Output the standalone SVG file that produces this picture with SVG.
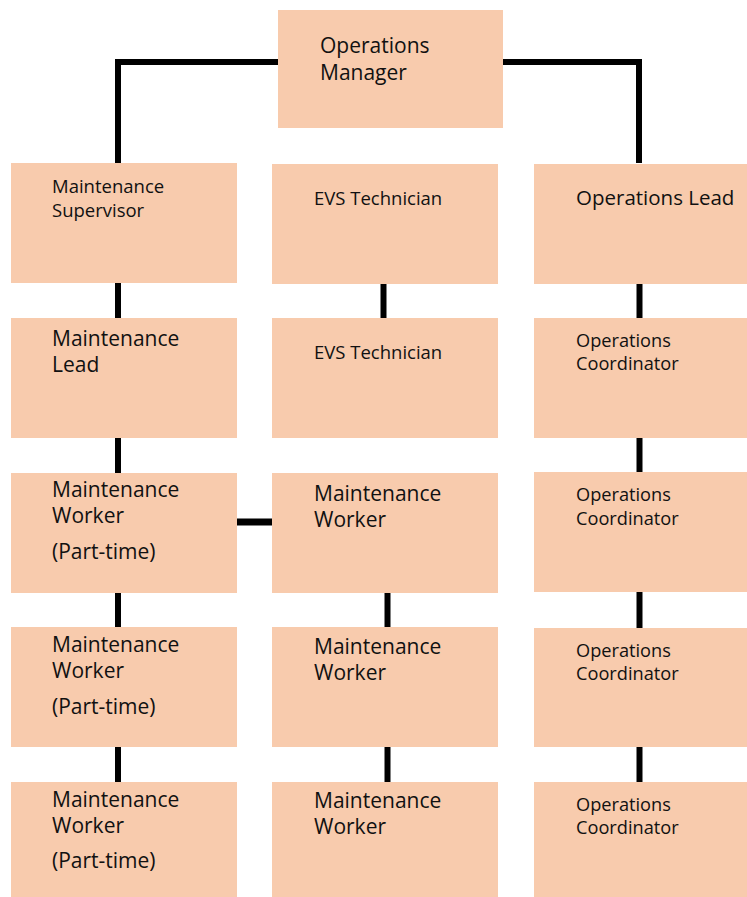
<svg xmlns="http://www.w3.org/2000/svg" width="747" height="897" viewBox="0 0 747 897">
<style>
.box{fill:#F8CBAD}
.t{font-family:"Open Sans","Noto Sans",sans-serif;fill:#111}
.l{font-size:21px}
.s{font-size:18.5px}
.c{font-size:18.2px}
.con{stroke:#000;stroke-width:6;fill:none}
</style>
<rect width="747" height="897" fill="#fff"/>
<g id="connectors">
<path class="con" d="M118,163 V62 H278"/>
<path class="con" d="M503,62 H639 V163"/>
<line class="con" x1="118" y1="283" x2="118" y2="318"/>
<line class="con" x1="118" y1="438" x2="118" y2="473"/>
<line class="con" x1="118" y1="593" x2="118" y2="627"/>
<line class="con" x1="118" y1="747" x2="118" y2="782"/>
<line class="con" x1="383.5" y1="284" x2="383.5" y2="318"/>
<line class="con" x1="387.5" y1="593" x2="387.5" y2="627"/>
<line class="con" x1="387.5" y1="747" x2="387.5" y2="782"/>
<line class="con" x1="639.5" y1="284" x2="639.5" y2="318"/>
<line class="con" x1="639.5" y1="438" x2="639.5" y2="472"/>
<line class="con" x1="639.5" y1="592" x2="639.5" y2="628"/>
<line class="con" x1="639.5" y1="747" x2="639.5" y2="782"/>
<line class="con" x1="237" y1="522" x2="272" y2="522" style="stroke-width:7"/>
</g>
<g id="operations-manager">
<rect class="box" x="278" y="10" width="225" height="118"/>
<text class="t l" x="320" y="53">Operations</text>
<text class="t l" x="320" y="80">Manager</text>
</g>
<g id="maintenance-supervisor">
<rect class="box" x="11" y="163" width="226" height="120"/>
<text class="t s" x="52" y="193">Maintenance</text>
<text class="t s" x="52" y="217">Supervisor</text>
</g>
<g id="evs-technician-1">
<rect class="box" x="272" y="164" width="226" height="120"/>
<text class="t s" x="314" y="205">EVS Technician</text>
</g>
<g id="operations-lead">
<rect class="box" x="534" y="164" width="213" height="120"/>
<text class="t l" x="576" y="205" style="font-size:20.5px">Operations Lead</text>
</g>
<g id="maintenance-lead">
<rect class="box" x="11" y="318" width="226" height="120"/>
<text class="t l" x="52" y="346">Maintenance</text>
<text class="t l" x="52" y="372">Lead</text>
</g>
<g id="evs-technician-2">
<rect class="box" x="272" y="318" width="226" height="120"/>
<text class="t s" x="314" y="359">EVS Technician</text>
</g>
<g id="operations-coordinator-1">
<rect class="box" x="534" y="318" width="213" height="120"/>
<text class="t c" x="576" y="347">Operations</text>
<text class="t c" x="576" y="370">Coordinator</text>
</g>
<g id="maintenance-worker-pt-1">
<rect class="box" x="11" y="473" width="226" height="120"/>
<text class="t l" x="52" y="497">Maintenance</text>
<text class="t l" x="52" y="523">Worker</text>
<text class="t l" x="52" y="559">(Part-time)</text>
</g>
<g id="maintenance-worker-1">
<rect class="box" x="272" y="473" width="226" height="120"/>
<text class="t l" x="314" y="501">Maintenance</text>
<text class="t l" x="314" y="527">Worker</text>
</g>
<g id="operations-coordinator-2">
<rect class="box" x="534" y="472" width="213" height="120"/>
<text class="t c" x="576" y="501">Operations</text>
<text class="t c" x="576" y="525">Coordinator</text>
</g>
<g id="maintenance-worker-pt-2">
<rect class="box" x="11" y="627" width="226" height="120"/>
<text class="t l" x="52" y="652">Maintenance</text>
<text class="t l" x="52" y="678">Worker</text>
<text class="t l" x="52" y="714">(Part-time)</text>
</g>
<g id="maintenance-worker-2">
<rect class="box" x="272" y="627" width="226" height="120"/>
<text class="t l" x="314" y="654">Maintenance</text>
<text class="t l" x="314" y="680">Worker</text>
</g>
<g id="operations-coordinator-3">
<rect class="box" x="534" y="628" width="213" height="119"/>
<text class="t c" x="576" y="657">Operations</text>
<text class="t c" x="576" y="680">Coordinator</text>
</g>
<g id="maintenance-worker-pt-3">
<rect class="box" x="11" y="782" width="226" height="115"/>
<text class="t l" x="52" y="807">Maintenance</text>
<text class="t l" x="52" y="833">Worker</text>
<text class="t l" x="52" y="868">(Part-time)</text>
</g>
<g id="maintenance-worker-3">
<rect class="box" x="272" y="782" width="226" height="115"/>
<text class="t l" x="314" y="808">Maintenance</text>
<text class="t l" x="314" y="834">Worker</text>
</g>
<g id="operations-coordinator-4">
<rect class="box" x="534" y="782" width="213" height="115"/>
<text class="t c" x="576" y="811">Operations</text>
<text class="t c" x="576" y="834">Coordinator</text>
</g>
</svg>
